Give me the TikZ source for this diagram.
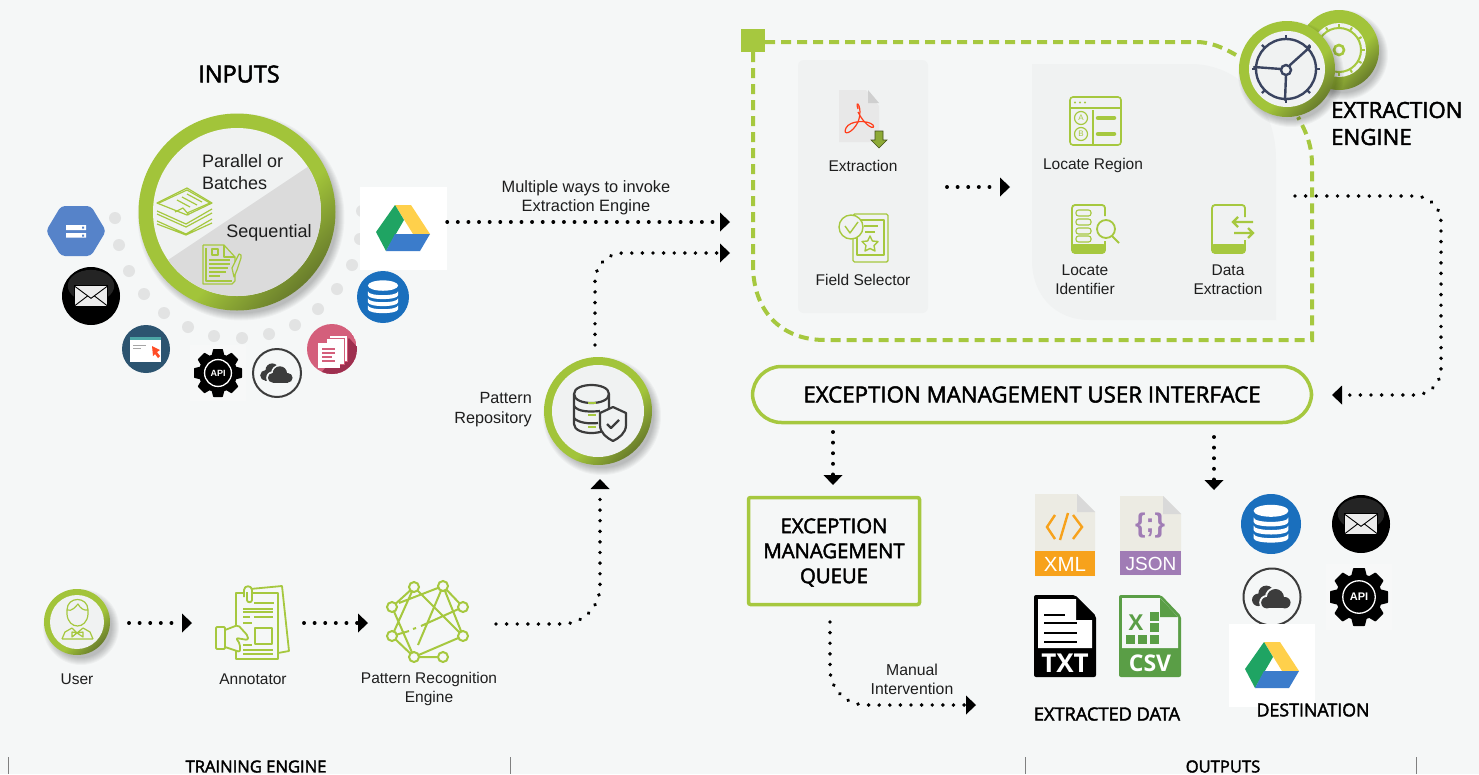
\documentclass[tikz,border=0pt]{standalone}
\usepackage{fontspec}
\setmainfont{Liberation Sans}
\newfontfamily\headf{Open Sans}
\newfontfamily\semif[FakeBold=2.2]{Open Sans}
\usetikzlibrary{arrows.meta,positioning}
\definecolor{bgc}{HTML}{F5F7F7}
\definecolor{ing}{HTML}{A6C83F}
\definecolor{ringg}{HTML}{A2C43A}
\definecolor{ringd}{HTML}{5F7029}
\definecolor{panelc}{HTML}{F0F2F2}
\definecolor{textc}{HTML}{1E1E1E}
\definecolor{navy}{HTML}{3A4460}
\definecolor{dotg}{HTML}{E2E3E3}
\definecolor{dbblue}{HTML}{1A6FBD}
\definecolor{hexblue}{HTML}{5683C9}
\definecolor{brow}{HTML}{2C5470}
\definecolor{docr}{HTML}{D45F7B}
\definecolor{docd}{HTML}{9E2F4F}
\definecolor{filec}{HTML}{ECEBE3}
\definecolor{xmlc}{HTML}{F7A21C}
\definecolor{jsonc}{HTML}{A07CB5}
\definecolor{csvc}{HTML}{5A9E46}
\definecolor{darki}{HTML}{3C3C3C}
\definecolor{drg}{HTML}{1FA463}
\definecolor{dry}{HTML}{FFD04B}
\definecolor{drb}{HTML}{3B7CCB}
\pgfdeclarehorizontalshading{ringshade}{100bp}{color(0bp)=(ringg);color(58bp)=(ringg);color(78bp)=(ringd);color(100bp)=(ringd)}
\tikzset{
  lbl/.style={font=\fontsize{15.5}{19}\selectfont,text=textc,inner sep=0pt,align=center},
  head/.style={font=\semif\fontsize{18.2}{22}\selectfont,text=black,inner sep=0pt,align=center},
  dotconn/.style={line width=3.9pt,line cap=round,dash pattern=on 0.01pt off 10.6pt,-{Triangle[length=10pt,width=19pt,line width=0pt]}},
  icn/.style={draw=ing,line width=1.8pt,line join=round},
  icnt/.style={draw=ing,line width=1.2pt,line join=round},
  dashfr/.style={draw=ing,line width=4pt,dash pattern=on 10pt off 6pt},
  tick/.style={draw=gray,line width=0.8pt}
}
\newcommand{\softshadow}[3]{%
  \foreach \d in {1,...,8}{\fill[black,opacity=.03] ({#1+4},{#2+5}) circle ({#3+6-\d});}}
\newcommand{\ringcircle}[4]{%
  \softshadow{#1}{#2}{#3}
  \shade[shading=ringshade,shading angle=-45] (#1,#2) circle (#3);
  \fill[panelc] (#1,#2) circle (#4);}
\newcommand{\mailicon}[3]{\begin{scope}[shift={(#1,#2)},scale=#3]
  \fill[black] (0,0) circle (1);
  \fill[white,opacity=.14] (0,-.35) ellipse (.8 and .55);
  \filldraw[fill=gray!15,draw=black,line width=.8pt] (-.58,-.35) rectangle (.58,.35);
  \draw[black,line width=.9pt] (-.58,-.35) -- (0,.08) -- (.58,-.35) (-.58,.35) -- (-.12,0) (.58,.35) -- (.12,0);
  \end{scope}}
\newcommand{\dbicon}[3]{\begin{scope}[shift={(#1,#2)},scale=#3]
  \fill[dbblue] (0,0) circle (1);
  \fill[white] (0,-.44) ellipse (.58 and .2);
  \foreach \y in {-.22,.05,.32}{\fill[white] (-.58,\y) .. controls (-.58,\y+.2) and (.58,\y+.2) .. (.58,\y) -- (.58,\y+.15) .. controls (.58,\y+.35) and (-.58,\y+.35) .. (-.58,\y+.15) -- cycle;}
  \end{scope}}
\newcommand{\cloudicon}[3]{\begin{scope}[shift={(#1,#2)},scale=#3]
  \filldraw[fill=bgc,draw=darki,line width=2pt] (0,0) circle (1);
  \foreach \cx/\cy/\cr in {-.48/.1/.22,-.2/-.12/.28,.12/-.05/.2}{\fill[darki] (\cx,\cy) circle (\cr);}
  \fill[darki] (-.48,-.05) rectangle (.12,.32);
  \foreach \cx/\cy/\cr in {-.18/.2/.27,.12/.02/.37,.45/.2/.27}{\fill[bgc] (\cx,\cy) circle (\cr);}
  \fill[bgc] (-.18,.0) rectangle (.45,.47);
  \foreach \cx/\cy/\cr in {-.18/.2/.2,.12/.02/.3,.45/.2/.2}{\fill[darki] (\cx,\cy) circle (\cr);}
  \fill[darki] (-.18,.1) rectangle (.45,.4);
  \end{scope}}
\newcommand{\apiicon}[4]{\begin{scope}[shift={(#1,#2)},scale=#3]
  \fill[white,opacity=.2] (-1.15,-1.15) rectangle (1.15,1.15);
  \fill[black] (0,0) circle (.8);
  \foreach \a in {0,45,...,315}{\fill[black,rotate=\a,rounded corners=.6pt] (-.2,-1) -- (.2,-1) -- (.3,-.6) -- (-.3,-.6) -- cycle;}
  \draw[white,line width=1.3pt] (0,0) circle (.56);
  \node[inner sep=0pt,text=white,font=\bfseries\fontsize{#4}{#4}\selectfont] at (0,0) {API};
  \end{scope}}
\newcommand{\driveicon}[2]{\begin{scope}[shift={(#1,#2)}]
  \fill[dry] (-8,-23) -- (8,-23) -- (27,6) -- (10,6) -- cycle;
  \fill[drg] (-27,4) -- (-8,-23) -- (1,-8) -- (-17,23) -- cycle;
  \fill[drb] (-8,6) -- (27,6) -- (17,23) -- (-17,23) -- cycle;
  \end{scope}}
\begin{document}
\begin{tikzpicture}[x=1pt,y=-1pt]
\useasboundingbox (0,0) rectangle (1479,774);
\fill[bgc] (0,0) rectangle (1479,774);

%% ---------- INPUTS ----------
\node[head,font=\semif\fontsize{23.5}{26}\selectfont] (tinputs) at (239,74) {INPUTS};
\foreach \p in {(115,218),(119,245),(129,271),(144,294),(164,313),(188,327),(214,336),(242,338),(269,334),(295,325),(318,309),(337,289),(352,265),(360,239),(362,211)}{\fill[dotg] \p circle (6);}
\ringcircle{237}{212}{98.5}{84}
\begin{scope}
  \clip (237,212) circle (84);
  \fill[gray!28] (150,272) -- (330,152) -- (340,320) -- (150,320) -- cycle;
\end{scope}
% stack icon
\draw[icnt] (157,203) -- (187,188) -- (212,203) -- (187,215) -- cycle;
\draw[icnt] (159,203) -- (187,190) -- (210,203) -- (187,213);
\draw[icnt] (175,212) -- (183,208) -- (189,215);
\draw[icnt] (187,194) -- (202,202) (182,197) -- (197,205) (177,200) -- (190,207);
\draw[icnt] (157,211) -- (186,224) -- (212,209) (157,214) -- (186,227) -- (212,213);
\draw[icnt] (157,221) -- (186,234) -- (212,219) (157,224) -- (186,235) -- (212,223);
% sequential doc icon
\draw[icnt] (203,245) -- (224,245) -- (235,257) -- (235,281) (203,245) -- (203,284) -- (232,284) -- (235,281);
\draw[icnt] (224,245) -- (224,257) -- (235,257);
\draw[icnt] (206,248) -- (206,281) -- (232,281);
\draw[icnt] (212,249) rectangle (218,255);
\draw[icnt] (209,260) -- (230,260) (209,264) -- (230,264) (209,268) -- (228,268) (209,272) -- (226,272) (209,276) -- (220,276);
\draw[icnt,fill=gray!28] (234,277) -- (232,268) -- (239,254) -- (241,255) -- (241,258) -- (237,270) -- cycle;
\node[lbl,font=\fontsize{18}{22}\selectfont,align=left,anchor=west] (tpar) at (202,172) {Parallel or\\Batches};
\node[lbl,font=\fontsize{18}{22}\selectfont] (tseq) at (269,232.5) {Sequential};
% source icons
\fill[hexblue,rounded corners=4pt] (46,231) -- (61,206) -- (91,206) -- (106,231) -- (91,256) -- (61,256) -- cycle;
\fill[white] (66,225) rectangle (86,230) (66,233) rectangle (86,237.5);
\fill[hexblue] (82,226.5) rectangle (84,228.5) (82,234.5) rectangle (84,236.5);
\mailicon{91}{296}{29}
% browser icon
\fill[brow] (146,349) circle (24);
\fill[white] (130,337) rectangle (161,362);
\fill[teal!70!white] (130,337) rectangle (161,340);
\draw[gray!70,line width=.8pt] (133,345) -- (146,345) (133,348) -- (141,348);
\fill[red!65!orange!85!white] (152,346) -- (160,350) -- (157,352) -- (160,356) -- (158,358) -- (155,354) -- (153,356) -- cycle;
\apiicon{218}{373}{24}{9}
\cloudicon{277}{373}{24}
% docs icon
\begin{scope}
  \clip (332,349) circle (25);
  \fill[docr] (332,349) circle (25);
  \fill[docd] (318,377) -- (354,377) -- (360,350) -- (349,338) -- cycle;
\end{scope}
\fill[white] (329,335) rectangle (347,361);
\draw[docr,line width=.7pt] (329,335) rectangle (347,361);
\fill[white] (326,338) rectangle (344,364);
\draw[docr,line width=.7pt] (326,338) rectangle (344,364);
\fill[white] (318,343) rectangle (340,368);
\draw[docr,line width=1.4pt] (322,349) -- (335,349) (322,353) -- (335,353) (322,357) -- (332,357) (322,361) -- (335,361);
\dbicon{383}{297}{26}
\node[fill=white,minimum width=87pt,minimum height=83pt,inner sep=0pt] (gdrive) at (403.5,228.5) {};
\driveicon{403}{228}

%% ---------- TRAINING ----------
\ringcircle{77}{622}{33}{27}
\begin{scope}[ing,line width=1.2pt,line join=round]
  \draw (67,610) .. controls (67,596) and (88,596) .. (88,610) -- (88,614) .. controls (87,630) and (68,630) .. (67,614) -- cycle;
  \draw (67,610) .. controls (72,612) and (76,606) .. (78,604) .. controls (80,608) and (84,611) .. (88,610);
  \draw (62,639) -- (65,632) -- (72,628) (93,639) -- (90,632) -- (83,628) (62,639) -- (93,639);
  \draw (72,628) -- (77,633) -- (83,628) (72,632) -- (77,633) -- (72,637) -- cycle (83,632) -- (77,633) -- (83,637) -- cycle;
\end{scope}
\node[lbl] (tuser) at (77,679) {User};
% annotator icon
\begin{scope}[icn]
  \draw (250,589) -- (282,586) -- (289,651) -- (278,653);
  \draw[fill=bgc] (236,593) rectangle (278,659);
  \draw[fill=bgc] (244,597) -- (244,590) .. controls (244,585) and (252,585) .. (252,590) -- (252,600) .. controls (252,603) and (247,603) .. (247,600) -- (247,592);
  \draw (254,603) -- (274,603) (243,609) -- (273,609) (243,612) -- (273,612) (243,617) -- (250,617) (254,617) -- (273,617) (243,623) -- (252,623);
  \draw (255,628) rectangle (272,644);
  \draw (243,645) -- (252,645) (243,650) -- (273,650) (243,654) -- (273,654);
  \draw[fill=bgc,rounded corners=2pt] (225,630) -- (238,625) -- (248,636) -- (248,640) -- (236,638) -- (240,644) -- (240,652) -- (225,647);
  \draw[fill=bgc,rounded corners=1pt] (216,627) rectangle (225,649);
\end{scope}
\node[lbl] (tannot) at (253,679) {Annotator};
% pattern recognition icon
\begin{scope}[ing,line width=2pt]
  \draw (414,587) -- (392,607) (443,586) -- (399,603) (414,587) -- (392,636)
        (414,587) -- (463,636) (443,586) -- (463,607) (443,586) -- (463,636)
        (443,586) -- (418,645) (392,607) -- (414,657) (392,636) -- (414,657)
        (463,636) -- (414,657) (414,657) -- (443,657) (463,607) -- (421,626) (416,628) -- (413,629) (409,631) -- (392,636);
  \foreach \p in {(414,587),(443,586),(463,607),(463,636),(443,657),(414,657),(392,636),(392,607)}{\draw[fill=bgc] \p circle (5);}
\end{scope}
\node[lbl] (tpat) at (429,688.5) {Pattern Recognition\\Engine};
\coordinate (userE) at (129,623);
\coordinate (annotW) at (192,623);
\coordinate (annotE) at (304,623);
\coordinate (preW) at (368,623);
\coordinate (preE) at (496,624);
\coordinate (repoS) at (600,479);
\draw[dotconn] (userE) -- (annotW);
\draw[dotconn] (annotE) -- (preW);
\draw[dotconn,rounded corners=38pt] (preE) -| (repoS);

%% ---------- REPOSITORY ----------
\ringcircle{598}{411}{54}{46}
\node[lbl,font=\fontsize{16.2}{19.5}\selectfont,align=right,anchor=east] (trepo) at (532,409.5) {Pattern\\Repository};
\begin{scope}[darki,line width=2.2pt,line join=round]
  \draw (574,394) .. controls (574,382) and (609,382) .. (609,394) -- (609,424) .. controls (609,436) and (574,436) .. (574,424) -- cycle;
  \draw (574,394) .. controls (574,406) and (609,406) .. (609,394);
  \draw (574,406) .. controls (578,412) and (590,412) .. (600,411);
  \draw (574,418) .. controls (578,423) and (590,424) .. (598,423);
  \draw[ing] (588,403) -- (596,403) (588,415) -- (596,415) (588,427) -- (596,427);
  \draw[fill=panelc] (613,407) -- (626,413) -- (626,425) .. controls (626,433) and (619,438) .. (613,441) .. controls (607,438) and (600,433) .. (600,425) -- (600,413) -- cycle;
  \draw (607,424) -- (611,428) -- (619,420);
\end{scope}
\coordinate (repoN) at (595,345);
\coordinate (frameA) at (730,222);
\coordinate (frameB) at (730,253);
\draw[dotconn] (gdrive.east |- frameA) -- (frameA);
\draw[dotconn,rounded corners=28pt] (repoN) |- (frameB);
\node[lbl,font=\fontsize{16.4}{19}\selectfont] (tmulti) at (586,197.5) {Multiple ways to invoke\\Extraction Engine};

%% ---------- EXTRACTION ENGINE ----------
\fill[panelc,rounded corners=6pt] (798,60) rectangle (928,313);
\fill[panelc] (1032,64) -- (1190,64) .. controls (1240,64) and (1276,105) .. (1276,160) -- (1276,320) -- (1090,320) .. controls (1055,320) and (1032,295) .. (1032,260) -- cycle;
\draw[dashfr] (765,42) -- (1196,42) .. controls (1210,42) and (1222,47) .. (1236,55);
\draw[dashfr] (753,52) -- (753,265) .. controls (753,310) and (780,340) .. (825,340) -- (1312,340) -- (1312,165) .. controls (1312,145) and (1306,132) .. (1298,117);
\fill[ing] (741,29) rectangle (765,52);
% gears
\softshadow{1339}{50}{40}
\shade[shading=ringshade,shading angle=-45] (1339,50) circle (40);
\fill[panelc] (1339,50) circle (27);
\begin{scope}[ing,line width=2pt]
  \draw (1339,50) circle (22);
  \foreach \a in {0,30,...,330}{\draw[shift={(1339,50)},rotate=\a] (0,-22) -- (0,-26);}
  \draw[line width=2.6pt] (1339,50) circle (5);
\end{scope}
\softshadow{1287}{69}{48}
\shade[shading=ringshade,shading angle=-45] (1287,69) circle (48);
\fill[panelc] (1287,69) circle (38);
\begin{scope}[navy,line width=2.4pt]
  \draw (1286,69) circle (30);
  \foreach \a in {0,45,...,315}{\draw[shift={(1286,69)},rotate=\a] (0,-29) -- (0,-34);}
  \draw[line cap=round] (1290,65) -- (1310,47) (1281,69) -- (1254,67) (1286,75) -- (1285,100);
  \draw[fill=panelc] (1286,70) circle (5);
\end{scope}
\node[head,font=\semif\fontsize{22.2}{27}\selectfont,align=left,anchor=west] (tengine) at (1331,123.5) {EXTRACTION\\ENGINE};
% extraction pdf
\fill[gray!18] (839,90) -- (866,90) -- (879,106) -- (879,142) -- (839,142) -- cycle;
\fill[gray!38] (868,90) -- (879,103) -- (868,103) -- cycle;
\draw[red!70!orange!90!white,line width=1.2pt] (858,109) .. controls (854,98) and (864,106) .. (858,122) .. controls (852,134) and (842,136) .. (846,128) .. controls (850,120) and (868,120) .. (873,125) .. controls (876,130) and (866,128) .. (858,112);
\filldraw[fill=ing!85!black,draw=black!60!ing,line width=.6pt] (875,131) -- (883,131) -- (883,140) -- (887,140) -- (879,148) -- (871,140) -- (875,140) -- cycle;
\node[lbl] (textr) at (863,165.5) {Extraction};
% field selector
\begin{scope}[ing,line width=1.4pt,line join=round]
  \draw[rounded corners=1.5pt] (853,214) rectangle (888,262);
  \draw (857,220) -- (884,220) -- (884,255) -- (857,255) -- cycle;
  \draw[fill=panelc] (851,227) circle (12);
  \draw (845,226) -- (850,233) -- (858,222);
  \draw (864,226) -- (878,226) (865,232) -- (875,232);
  \draw (870,236) -- (872.4,241) -- (878,241.5) -- (874,245.5) -- (875,251) -- (870,248.5) -- (865,251) -- (866,245.5) -- (862,241.5) -- (867.6,241) -- cycle;
\end{scope}
\node[lbl] (tfield) at (863,280) {Field Selector};
% locate region
\begin{scope}[ing,line width=1.6pt]
  \draw[rounded corners=3pt] (1070,97) rectangle (1121,145);
  \draw (1070,108) -- (1121,108) (1093,110) -- (1093,145);
  \foreach \x in {1075,1080,1085}{\fill (\x,102.5) circle (1.2);}
  \draw[line width=1.2pt] (1081,118) circle (6.5) (1081,134) circle (6.5);
  \draw[line width=4.5pt,line cap=round] (1098,118) -- (1114,118) (1098,134) -- (1114,134);
\end{scope}
\node[lbl,font=\fontsize{8}{8}\selectfont,text=ing] (la) at (1081,118) {A};
\node[lbl,font=\fontsize{8}{8}\selectfont,text=ing] (lb) at (1081,134) {B};
\node[lbl] (tregion) at (1093,165) {Locate Region};
% locate identifier
\begin{scope}[ing,line width=1.8pt]
  \draw[rounded corners=3pt] (1105,216) -- (1105,205) -- (1072,205) -- (1072,253) -- (1105,253) -- (1105,241);
  \fill[rounded corners=2pt] (1072,244) rectangle (1105,253);
  \foreach \y in {210,219,228,236}{\draw[line width=1.1pt,rounded corners=2.5pt] (1076,\y) rectangle (1091,\y+6);}
  \draw (1106,229) circle (9);
  \draw (1112,236) -- (1119,243);
\end{scope}
\node[lbl] (tident) at (1085,279.5) {Locate\\Identifier};
% data extraction
\begin{scope}[ing,line width=1.8pt]
  \draw[rounded corners=3pt] (1245,217) -- (1245,205) -- (1212,205) -- (1212,253) -- (1245,253) -- (1245,240);
  \fill[rounded corners=2pt] (1212,244) rectangle (1245,253);
  \draw[line width=2.2pt] (1253,222) -- (1234,222) (1238,217) -- (1233,222) -- (1238,227);
  \draw[line width=2.2pt] (1234,233) -- (1253,233) (1248,228) -- (1253,233) -- (1248,238);
\end{scope}
\node[lbl] (tdata) at (1228,279.5) {Data\\Extraction};
\coordinate (lpanelE) at (947,187);
\coordinate (rpanelW) at (1010,187);
\draw[dotconn] (lpanelE) -- (rpanelW);

%% ---------- EXCEPTION ----------
\node[draw=ing,line width=3.5pt,fill=bgc,rounded corners=29pt,minimum width=559pt,minimum height=56pt,inner sep=0pt,font=\semif\fontsize{22.3}{26}\selectfont,text=black] (pill) at (1032,394.5) {EXCEPTION MANAGEMENT USER INTERFACE};
\node[draw=ing,line width=3.5pt,fill=bgc,rounded corners=2pt,minimum width=171pt,minimum height=107pt,inner sep=0pt] (queue) at (834,551) {};
\node[inner sep=0pt,align=center,font=\semif\fontsize{20.3}{25}\selectfont,text=black] (tqueue) at (834,552.5) {EXCEPTION\\MANAGEMENT\\QUEUE};
\coordinate (rpanelE) at (1295,196);
\coordinate (pillE) at (1332,395);
\coordinate (pillS1) at (833,432);
\coordinate (queueN) at (833,485);
\coordinate (pillS2) at (1214,437);
\coordinate (destN) at (1214,490);
\coordinate (queueS) at (830,622);
\coordinate (dataW) at (976,705);
\draw[dotconn,rounded corners=26pt] (rpanelE) -- (1441,196) -- (1441,395) -- (pillE);
\draw[dotconn] (pillS1) -- (queueN);
\draw[dotconn] (pillS2) -- (destN);
\draw[dotconn,rounded corners=36pt] (queueS) |- (dataW);
\node[lbl,font=\fontsize{15.8}{19}\selectfont] (tman) at (912,679.5) {Manual\\Intervention};

%% ---------- FILES ----------
\fill[filec] (1035,494) -- (1077,494) -- (1095,512) -- (1095,576) -- (1035,576) -- cycle;
\fill[gray!30] (1077,494) -- (1095,512) -- (1077,512) -- cycle;
\fill[xmlc] (1035,551) rectangle (1095,576);
\node[inner sep=0pt,text=white,font=\fontsize{20.5}{21}\selectfont] (txml) at (1065,564) {XML};
\draw[xmlc,line width=2.4pt] (1055,515) -- (1047,527) -- (1055,539) (1073,515) -- (1082,527) -- (1073,539) (1068,513) -- (1060,540);
\fill[filec] (1120,496) -- (1163,496) -- (1181,514) -- (1181,575) -- (1120,575) -- cycle;
\fill[gray!30] (1163,496) -- (1181,514) -- (1163,514) -- cycle;
\fill[jsonc] (1120,551) rectangle (1181,575);
\node[inner sep=0pt,text=white,font=\fontsize{19}{21}\selectfont] (tjson) at (1151,563.5) {JSON};
\node[inner sep=0pt,text=jsonc,font=\bfseries\fontsize{27}{27}\selectfont] (tbrace) at (1150,526) {\{;\}};
\fill[black,rounded corners=2pt] (1034,595) -- (1075,595) -- (1096,616) -- (1096,677) -- (1034,677) -- cycle;
\fill[white] (1038,599) -- (1076,599) -- (1076,620) -- (1092,620) -- (1092,648) -- (1038,648) -- cycle;
\draw[black,line width=1.5pt] (1044,615) -- (1065,615) (1044,623) -- (1077,623) (1044,633) -- (1077,633) (1044,642) -- (1077,642);
\node[inner sep=0pt,text=white,font=\headf\bfseries\fontsize{26}{26}\selectfont] (ttxt) at (1065,663) {TXT};
\fill[csvc,rounded corners=2pt] (1119,595) -- (1161,595) -- (1181,616) -- (1181,677) -- (1119,677) -- cycle;
\fill[bgc] (1122,598) -- (1160,598) -- (1178,617) -- (1178,648) -- (1122,648) -- cycle;
\fill[csvc] (1160,598) -- (1178,617) -- (1160,617) -- cycle;
\foreach \p in {(1150,612),(1150,623),(1126,635),(1138,635),(1150,635)}{\fill[csvc] \p rectangle ++(9,9);}
\node[inner sep=0pt,text=csvc,font=\headf\bfseries\fontsize{22}{22}\selectfont] (tx) at (1136,623) {X};
\node[inner sep=0pt,text=white,font=\headf\bfseries\fontsize{23}{23}\selectfont] (tcsv) at (1150,663) {CSV};
\node[head] (textracted) at (1107,714) {EXTRACTED DATA};
%% ---------- DESTINATIONS ----------
\dbicon{1271}{524}{30}
\mailicon{1361}{524}{29}
\cloudicon{1272}{597}{28.5}
\apiicon{1359}{597}{29}{11}
\node[fill=white,minimum width=86pt,minimum height=83pt,inner sep=0pt] (gdriveb) at (1272,665.5) {};
\driveicon{1272}{665}
\node[head,font=\semif\fontsize{17.8}{22}\selectfont] (tdest) at (1313,710) {DESTINATION};

%% ---------- SECTIONS ----------
\draw[tick] (8,757) -- (8,774) (510,757) -- (510,774) (1025,757) -- (1025,774) (1416,757) -- (1416,774);
\node[head,font=\semif\fontsize{16.6}{18}\selectfont] (ttrain) at (256,766.5) {TRAINING ENGINE};
\node[head,font=\semif\fontsize{16.6}{18}\selectfont] (toutputs) at (1223,766.5) {OUTPUTS};
\end{tikzpicture}
\end{document}
